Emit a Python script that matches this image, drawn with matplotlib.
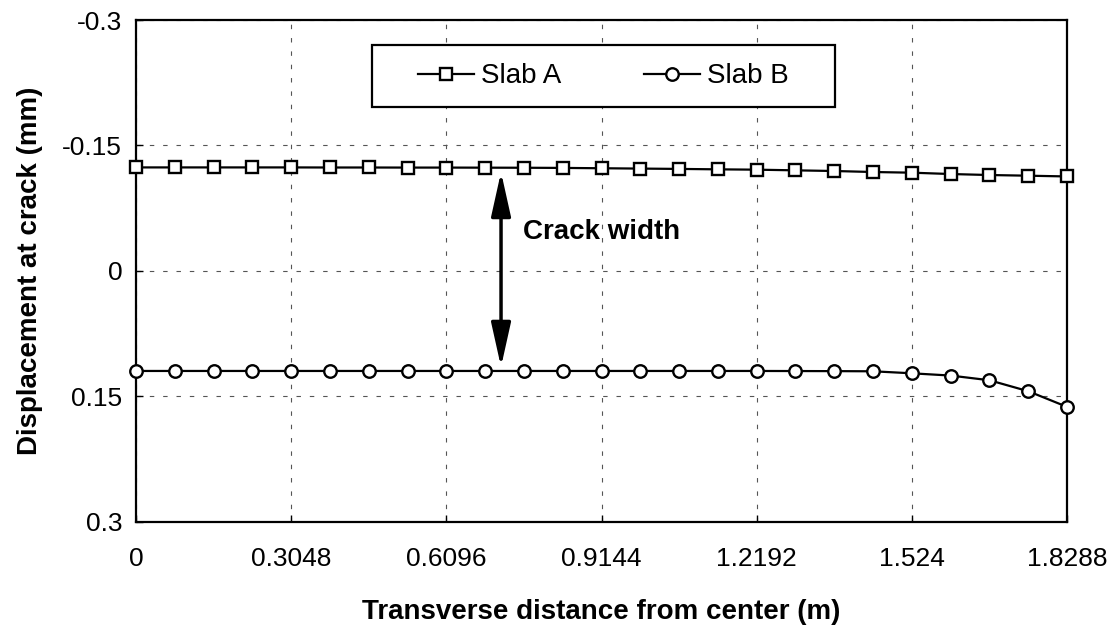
import matplotlib.pyplot as plt
from matplotlib.patches import Rectangle
import numpy as np

plt.rcParams['font.family'] = ['Liberation Sans', 'DejaVu Sans']

# transverse distance (m), every 0.0762 m
x = np.arange(25) * 0.0762

slab_a = [-0.1238, -0.1238, -0.1238, -0.1238, -0.1238, -0.1237, -0.1237, -0.1236,
          -0.1236, -0.1235, -0.1234, -0.1232, -0.1228, -0.1224, -0.1220, -0.1215,
          -0.1211, -0.1203, -0.1195, -0.1183, -0.1175, -0.1159, -0.1147, -0.1139,
          -0.1130]
slab_b = [0.1195, 0.1195, 0.1195, 0.1195, 0.1195, 0.1195, 0.1195, 0.1195,
          0.1195, 0.1195, 0.1195, 0.1195, 0.1195, 0.1195, 0.1195, 0.1195,
          0.1195, 0.1196, 0.1197, 0.1199, 0.1223, 0.1250, 0.1306, 0.1437,
          0.1624]

xticks = [0, 0.3048, 0.6096, 0.9144, 1.2192, 1.524, 1.8288]
xticklabels = ["0", "0.3048", "0.6096", "0.9144", "1.2192", "1.524", "1.8288"]
yticks = [-0.3, -0.15, 0, 0.15, 0.3]
yticklabels = ["-0.3", "-0.15", "0", "0.15", "0.3"]

fig = plt.figure(figsize=(11.16, 6.35), dpi=100)
ax = fig.add_axes([0.1219, 0.178, 0.8342, 0.7905])

ax.plot(x, slab_a, color='black', lw=1.6, marker='s', ms=8.5, mfc='white',
        mec='black', mew=1.7, label='Slab A', clip_on=False, zorder=3)
ax.plot(x, slab_b, color='black', lw=1.6, marker='o', ms=9, mfc='white',
        mec='black', mew=1.7, label='Slab B', clip_on=False, zorder=3)

ax.set_xlim(0, 1.8288)
ax.set_ylim(0.3, -0.3)
ax.set_xticks(xticks)
ax.set_xticklabels(xticklabels)
ax.set_yticks(yticks)
ax.set_yticklabels(yticklabels)
ax.tick_params(direction='in', length=5, width=1, labelsize=19)
ax.tick_params(axis='x', pad=18)
ax.tick_params(axis='y', pad=10)
ax.grid(True, color='#555555', ls=(0, (4, 8)), lw=0.8)
for s in ax.spines.values():
    s.set_linewidth(1.6)

ax.set_xlabel("Transverse distance from center (m)", fontsize=20,
              fontweight='bold', labelpad=20)
ax.set_ylabel("Displacement at crack (mm)", fontsize=20, fontweight='bold',
              labelpad=14)

# crack width arrow
ax.annotate('', xy=(0.717, -0.1183), xytext=(0.717, 0.1147),
            arrowprops=dict(arrowstyle='<|-|>,head_length=2.7,head_width=0.6',
                            color='black', lw=2.5, shrinkA=0, shrinkB=0))
ax.text(0.760, -0.0466, "Crack width", fontsize=20, fontweight='bold',
        va='center', ha='left')

# legend box drawn separately, entries centered in it
ax.add_patch(Rectangle((0.2535, 0.8267), 0.497, 0.1235, transform=ax.transAxes,
                       facecolor='white', edgecolor='black', lw=1.6, zorder=4))
leg = ax.legend(loc='center', bbox_to_anchor=(0.502, 0.888), ncol=2,
                fontsize=20, frameon=False, handlelength=2.0,
                handletextpad=0.25, columnspacing=3.0, borderpad=0,
                borderaxespad=0)
leg.set_zorder(5)

fig.savefig('out.png', dpi=100)
